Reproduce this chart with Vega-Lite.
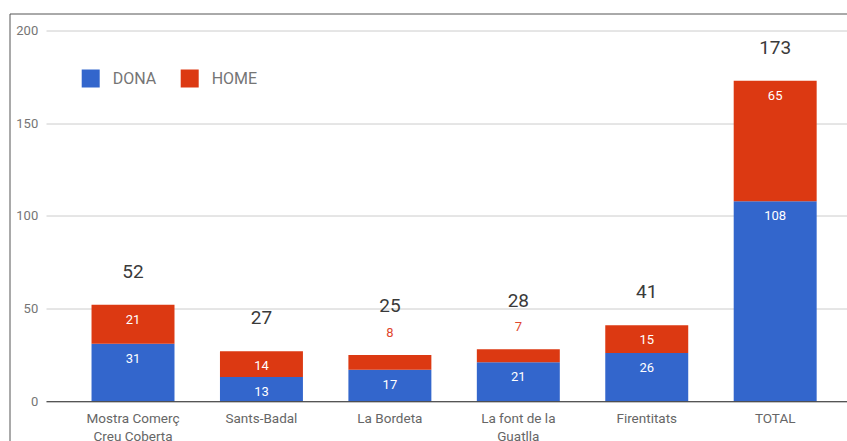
{
  "$schema": "https://vega.github.io/schema/vega-lite/v6.json",
  "autosize": {"type": "none"},
  "padding": {"left": 9.5, "top": 13.5, "right": 0, "bottom": 0},
  "width": 850,
  "height": 440,
  "background": "white",
  "config": {
    "view": {"stroke": "#555555", "strokeWidth": 1},
    "font": "Roboto"
  },
  "datasets": {
    "segments": [
      {"category": "Mostra Comerç Creu Coberta", "sex": "DONA", "value": 31},
      {"category": "Mostra Comerç Creu Coberta", "sex": "HOME", "value": 21},
      {"category": "Sants-Badal", "sex": "DONA", "value": 13},
      {"category": "Sants-Badal", "sex": "HOME", "value": 14},
      {"category": "La Bordeta", "sex": "DONA", "value": 17},
      {"category": "La Bordeta", "sex": "HOME", "value": 8},
      {"category": "La font de la Guatlla", "sex": "DONA", "value": 21},
      {"category": "La font de la Guatlla", "sex": "HOME", "value": 7},
      {"category": "Firentitats", "sex": "DONA", "value": 26},
      {"category": "Firentitats", "sex": "HOME", "value": 15},
      {"category": "TOTAL", "sex": "DONA", "value": 108},
      {"category": "TOTAL", "sex": "HOME", "value": 65}
    ],
    "totals": [
      {"category": "Mostra Comerç Creu Coberta", "total": 52},
      {"category": "Sants-Badal", "total": 27},
      {"category": "La Bordeta", "total": 25},
      {"category": "La font de la Guatlla", "total": 28},
      {"category": "Firentitats", "total": 41},
      {"category": "TOTAL", "total": 173}
    ]
  },
  "encoding": {
    "x": {
      "field": "category",
      "type": "nominal",
      "sort": null,
      "scale": {
        "domain": ["Mostra Comerç Creu Coberta", "Sants-Badal", "La Bordeta", "La font de la Guatlla", "Firentitats", "TOTAL"],
        "range": [36.5, 852.7],
        "paddingInner": 0.354,
        "paddingOuter": 0.3545
      },
      "axis": {
        "title": null,
        "orient": "bottom",
        "offset": -52.3,
        "domainColor": "#333333",
        "domainWidth": 1,
        "ticks": false,
        "labelPadding": 10.5,
        "labelFontSize": 13.5,
        "labelColor": "#666666",
        "labelAngle": 0,
        "labelLineHeight": 17.5,
        "zindex": 1,
        "labelExpr": "datum.value == 'Mostra Comerç Creu Coberta' ? ['Mostra Comerç', 'Creu Coberta'] : datum.value == 'La font de la Guatlla' ? ['La font de la', 'Guatlla'] : datum.label"
      }
    }
  },
  "layer": [
    {
      "data": {"name": "segments"},
      "mark": {"type": "bar"},
      "encoding": {
        "y": {
          "field": "value",
          "type": "quantitative",
          "stack": "zero",
          "scale": {"domain": [0, 200], "range": [387.7, 17.2], "nice": false, "zero": true},
          "axis": {
            "title": null,
            "values": [0, 50, 100, 150, 200],
            "grid": true,
            "gridColor": "#cccccc",
            "domain": false,
            "ticks": false,
            "offset": -36.5,
            "labelPadding": 8.3,
            "labelFontSize": 13,
            "labelColor": "#757575"
          }
        },
        "color": {
          "field": "sex",
          "type": "nominal",
          "scale": {"domain": ["DONA", "HOME"], "range": ["#3366cc", "#dc3912"]},
          "legend": {
            "title": null,
            "orient": "none",
            "legendX": 72.2,
            "legendY": 56,
            "direction": "horizontal",
            "symbolType": "square",
            "symbolSize": 324,
            "symbolStrokeWidth": 0,
            "labelFontSize": 16,
            "labelColor": "#757575",
            "labelOffset": 13,
            "columnPadding": 24,
            "padding": 0
          }
        },
        "order": {"field": "sex", "sort": "ascending"}
      }
    },
    {
      "data": {"name": "segments"},
      "transform": [
        {"stack": "value", "groupby": ["category"], "sort": [{"field": "sex", "order": "ascending"}], "as": ["v0", "v1"]},
        {"filter": "datum.value >= 10"}
      ],
      "mark": {"type": "text", "color": "white", "fontSize": 13, "baseline": "middle", "dy": 15},
      "encoding": {
        "y": {"field": "v1", "type": "quantitative"},
        "text": {"field": "value", "type": "quantitative"}
      }
    },
    {
      "data": {"name": "segments"},
      "transform": [
        {"stack": "value", "groupby": ["category"], "sort": [{"field": "sex", "order": "ascending"}], "as": ["v0", "v1"]},
        {"filter": "datum.value < 10"}
      ],
      "mark": {"type": "text", "color": "#e0472d", "fontSize": 13, "baseline": "middle", "dy": -22},
      "encoding": {
        "y": {"field": "v1", "type": "quantitative"},
        "text": {"field": "value", "type": "quantitative"}
      }
    },
    {
      "data": {"name": "totals"},
      "transform": [
        {"filter": {"not": {"field": "category", "oneOf": ["La Bordeta", "La font de la Guatlla"]}}}
      ],
      "mark": {"type": "text", "color": "#3a3a3a", "fontSize": 19, "baseline": "middle", "dy": -33},
      "encoding": {
        "y": {"field": "total", "type": "quantitative"},
        "text": {"field": "total", "type": "quantitative"}
      }
    },
    {
      "data": {"name": "totals"},
      "transform": [
        {"filter": {"field": "category", "oneOf": ["La Bordeta", "La font de la Guatlla"]}}
      ],
      "mark": {"type": "text", "color": "#3a3a3a", "fontSize": 19, "baseline": "middle", "dy": -48.5},
      "encoding": {
        "y": {"field": "total", "type": "quantitative"},
        "text": {"field": "total", "type": "quantitative"}
      }
    }
  ]
}
